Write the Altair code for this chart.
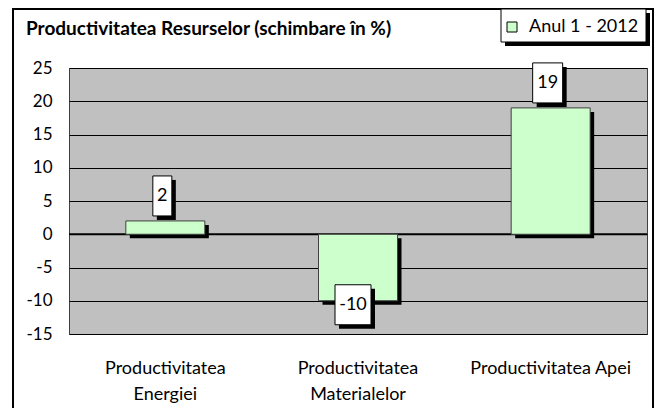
import altair as alt
import pandas as pd

categories = ["Productivitatea Energiei", "Productivitatea Materialelor", "Productivitatea Apei"]
values = [2, -10, 19]
series_name = "Anul 1 - 2012"
y_ticks = [-15, -10, -5, 0, 5, 10, 15, 20, 25]
title_text = "Productivitatea Resurselor (schimbare în %)"

df = pd.DataFrame({"cat": categories, "val": values, "serie": [series_name] * len(values)})
df["label"] = df["val"].astype(str)

FONT = "Lato"
W, H = 578, 266
BAR_W = 79

x_axis = alt.Axis(title=None, labelAngle=0, labelFont=FONT, labelFontSize=18, labelColor="black",
                  labelPadding=25, labelLineHeight=26, labelBaseline="top", domain=False, ticks=False,
                  labelLimit=300,
                  labelExpr="length(datum.label) > 20 ? split(datum.label, ' ') : datum.label")
y_axis = alt.Axis(title=None, values=y_ticks, grid=True, gridColor="black", gridWidth=1,
                  domain=False, ticks=False, labelPadding=17, labelFont=FONT, labelFontSize=17,
                  labelColor="black", labelOverlap=False, labelExpr="toString(datum.value)")
y_scale = alt.Scale(domain=[-15, 25], nice=False, zero=False)

x_enc = alt.X("cat:N", sort=categories, scale=alt.Scale(paddingInner=0, paddingOuter=0), axis=x_axis)
y_enc = alt.Y("val:Q", scale=y_scale, axis=y_axis)

base = alt.Chart(df).encode(x=x_enc, y=y_enc)
dummy = alt.Chart(pd.DataFrame({"d": [0]}))

frame = dummy.mark_rect(filled=False, stroke="black", strokeWidth=2).encode(
    x=alt.value(-56), x2=alt.value(584), y=alt.value(-59), y2=alt.value(360)
)
title = dummy.mark_text(text=title_text, font=FONT, fontSize=19, fontWeight="bold", color="black",
                        align="left", baseline="alphabetic").encode(x=alt.value(-43), y=alt.value(-33))
legend_shadow = dummy.mark_rect(color="black").encode(
    x=alt.value(436), x2=alt.value(581), y=alt.value(-55), y2=alt.value(-22)
)
legend_box = dummy.mark_rect(fill="white", stroke="black", strokeWidth=1).encode(
    x=alt.value(432), x2=alt.value(577), y=alt.value(-59), y2=alt.value(-26)
)
zero_rule = dummy.mark_rule(color="black", strokeWidth=2).encode(
    y=alt.Y(datum=0, scale=y_scale, axis=y_axis)
)

bar_shadow = base.mark_bar(width=BAR_W, color="black", xOffset=4, yOffset=4)
bars = base.mark_bar(width=BAR_W, stroke="#404040", strokeWidth=1).encode(
    color=alt.Color(
        "serie:N",
        scale=alt.Scale(domain=[series_name], range=["#CCFFCC"]),
        legend=alt.Legend(
            title=None, orient="none", legendX=434, legendY=-50, padding=0,
            symbolType="square", symbolSize=100, symbolStrokeColor="black", symbolStrokeWidth=1,
            labelFont=FONT, labelFontSize=18, labelColor="black", labelOffset=8,
        ),
    )
)

label_layers = []
for c, v in zip(categories, values):
    lbl = str(v)
    w = {1: 19, 2: 30, 3: 36}[len(lbl)]
    dy = -25 if v > 0 else 4
    dx = -3 if v > 0 else -5
    sub = base.transform_filter(alt.datum.cat == c)
    label_layers.append(sub.mark_rect(width=w, height=40, color="black", xOffset=dx + 4, yOffset=dy + 4))
    label_layers.append(sub.mark_rect(width=w, height=40, fill="white", stroke="black", strokeWidth=1,
                                      xOffset=dx, yOffset=dy))
    label_layers.append(sub.mark_text(font=FONT, fontSize=18, color="black", xOffset=dx, yOffset=dy,
                                      baseline="middle").encode(text="label:N"))

chart = alt.layer(
    frame, title, legend_shadow, legend_box, zero_rule, bar_shadow, bars, *label_layers
).properties(
    width=W, height=H,
    padding={"left": 61, "top": 60, "right": 7, "bottom": 74},
    autosize=alt.AutoSizeParams(type="none"),
    background="white",
).configure_view(
    fill="#C0C0C0", stroke="#404040", strokeWidth=1
)

chart.save("out.html", embed_options={"renderer": "svg", "actions": False})
